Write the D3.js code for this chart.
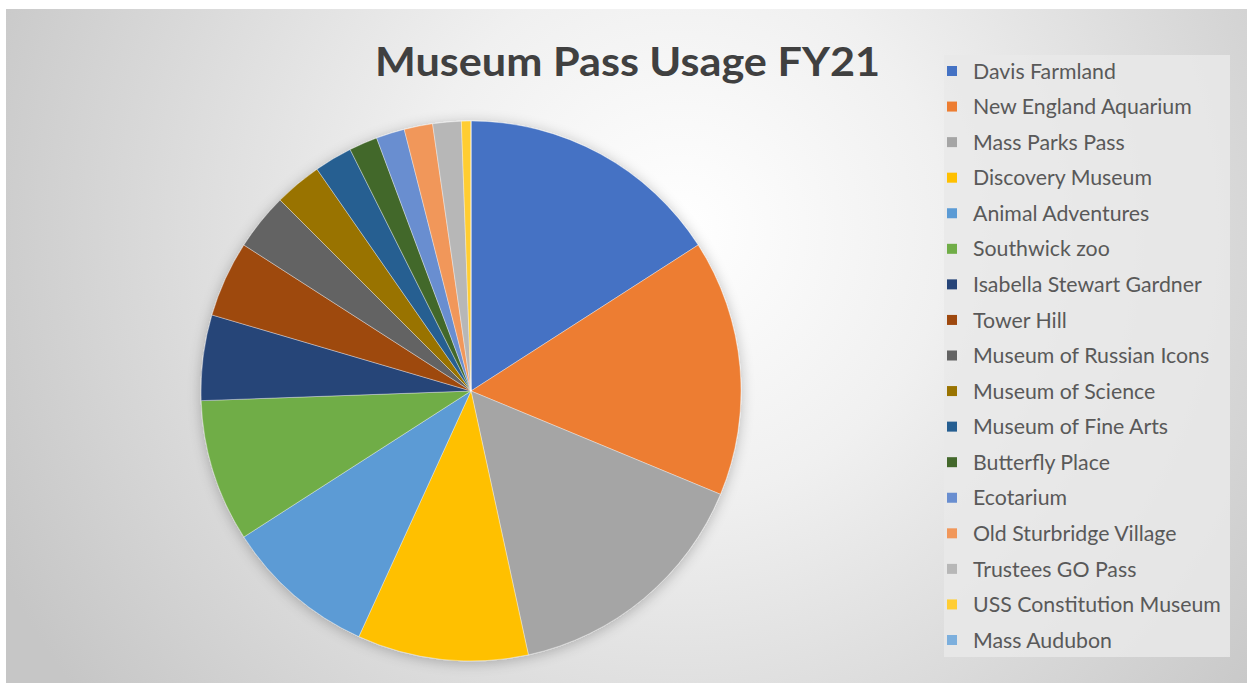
<!DOCTYPE html>
<html>
<head>
<meta charset="utf-8">
<script src="https://cdn.jsdelivr.net/npm/d3@7"></script>
<style>
  html, body { margin: 0; padding: 0; background: #ffffff; }
  svg { display: block; }
</style>
</head>
<body>
<svg id="chart" width="1247" height="686"></svg>
<script>
const title = "Museum Pass Usage FY21";
const categories = [
  "Davis Farmland", "New England Aquarium", "Mass Parks Pass", "Discovery Museum",
  "Animal Adventures", "Southwick zoo", "Isabella Stewart Gardner", "Tower Hill",
  "Museum of Russian Icons", "Museum of Science", "Museum of Fine Arts", "Butterfly Place",
  "Ecotarium", "Old Sturbridge Village", "Trustees GO Pass", "USS Constitution Museum",
  "Mass Audubon"
];
const values = [28, 27, 27, 18, 16, 15, 9, 8, 6, 5, 4, 3, 3, 3, 3, 1, 0];
const colors = [
  "#4472C4", "#ED7D31", "#A5A5A5", "#FFC000", "#5B9BD5", "#70AD47",
  "#264478", "#9E480E", "#636363", "#997300", "#255E91", "#43682B",
  "#698ED0", "#F1975A", "#B7B7B7", "#FFCD33", "#7CAFDD"
];

const svg = d3.select("#chart");
const W = 1247, H = 686;
const defs = svg.append("defs");

const bg = defs.append("radialGradient").attr("id", "bgGrad")
  .attr("gradientUnits", "userSpaceOnUse")
  .attr("cx", 680).attr("cy", 230).attr("r", 760);
bg.append("stop").attr("offset", "0%").attr("stop-color", "#ffffff");
bg.append("stop").attr("offset", "35%").attr("stop-color", "#f0f0f0");
bg.append("stop").attr("offset", "100%").attr("stop-color", "#c6c6c6");

const shadow = defs.append("filter").attr("id", "pieShadow")
  .attr("x", "-20%").attr("y", "-20%").attr("width", "140%").attr("height", "140%");
shadow.append("feGaussianBlur").attr("in", "SourceAlpha").attr("stdDeviation", 7).attr("result", "blur");
shadow.append("feOffset").attr("in", "blur").attr("dx", 0).attr("dy", 2).attr("result", "off");
shadow.append("feComponentTransfer").attr("in", "off").attr("result", "sh")
  .append("feFuncA").attr("type", "linear").attr("slope", 0.25);
const merge = shadow.append("feMerge");
merge.append("feMergeNode").attr("in", "sh");
merge.append("feMergeNode").attr("in", "SourceGraphic");

// chart area
svg.append("rect").attr("x", 6).attr("y", 9).attr("width", W - 6).attr("height", 674)
  .attr("fill", "url(#bgGrad)");

// title
svg.append("text")
  .attr("x", 627.5).attr("y", 76)
  .attr("text-anchor", "middle")
  .attr("font-family", "Lato, 'Open Sans', sans-serif")
  .attr("font-weight", "bold")
  .attr("font-size", 40)
  .attr("fill", "#404040")
  .attr("textLength", 505)
  .attr("lengthAdjust", "spacingAndGlyphs")
  .text(title);

// pie
const cx = 471, cy = 391, R = 270;
const data = categories.map((c, i) => ({ name: c, value: values[i], color: colors[i] }));
const pie = d3.pie().value(d => d.value).sort(null);
const arc = d3.arc().innerRadius(0).outerRadius(R);
const gPie = svg.append("g").attr("transform", `translate(${cx},${cy})`)
  .attr("filter", "url(#pieShadow)");
gPie.selectAll("path")
  .data(pie(data))
  .join("path")
  .attr("d", arc)
  .attr("fill", d => d.data.color)
  .attr("stroke", "rgba(255,255,255,0.45)")
  .attr("stroke-width", 0.8);

// legend
svg.append("rect").attr("x", 944).attr("y", 55).attr("width", 286).attr("height", 602)
  .attr("fill", "#e9e9e9").attr("opacity", 0.85);

const ly = d3.scalePoint().domain(categories).range([71, 640]);
const lg = svg.append("g");
const items = lg.selectAll("g.item").data(data).join("g")
  .attr("class", "item")
  .attr("transform", d => `translate(0,${ly(d.name)})`);
items.append("rect")
  .attr("x", 947).attr("y", -5).attr("width", 10).attr("height", 10)
  .attr("fill", d => d.color);
items.append("text")
  .attr("x", 973).attr("y", 0).attr("dy", "0.36em")
  .attr("font-family", "Lato, 'Open Sans', sans-serif")
  .attr("font-size", 21.3)
  .attr("fill", "#595959")
  .text(d => d.name);
</script>
</body>
</html>
